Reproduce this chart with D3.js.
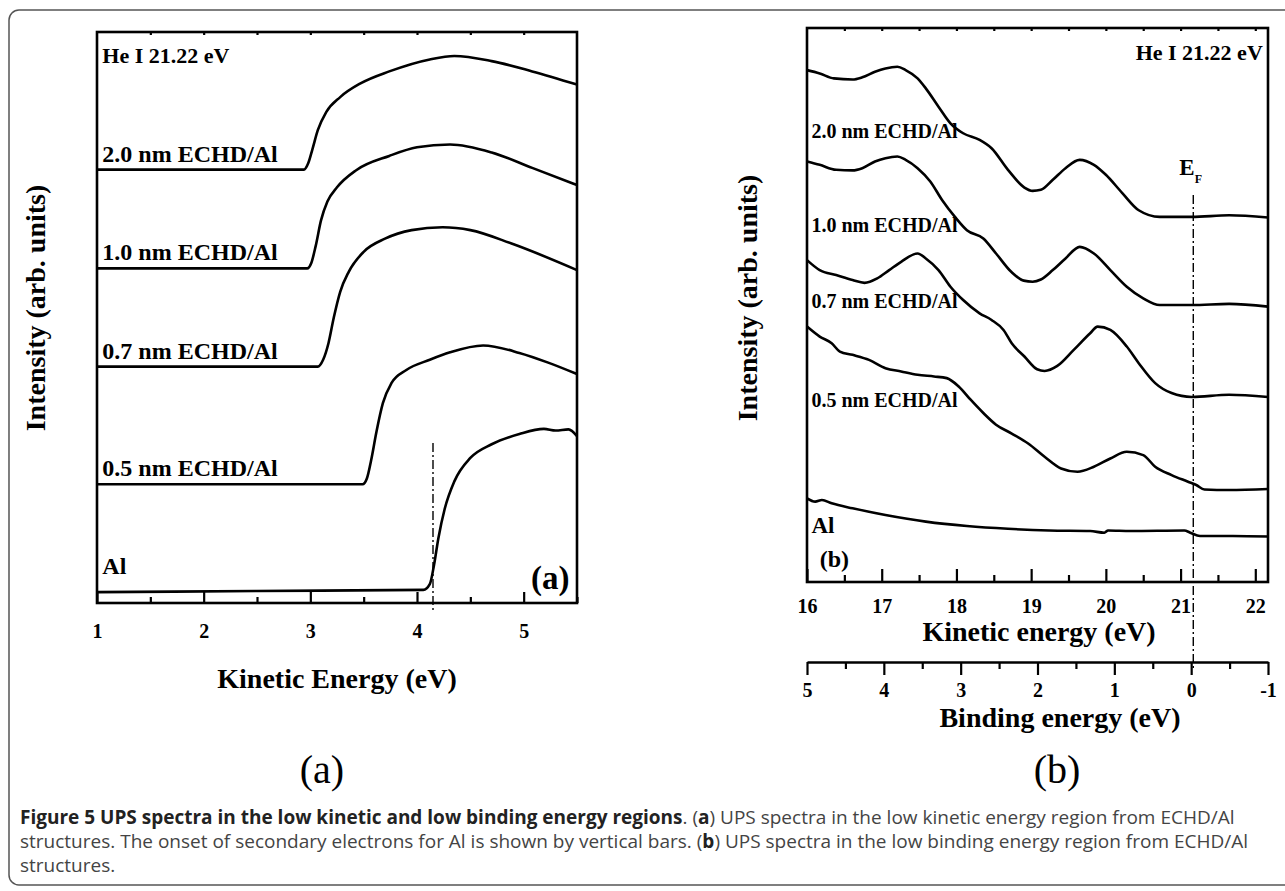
<!DOCTYPE html>
<html lang="en">
<head>
<meta charset="utf-8" />
<title>Figure 5 - UPS spectra</title>
<script src="https://cdn.jsdelivr.net/npm/d3@7"></script>
<style>
  body { margin: 0; background: #fff; }
  svg text { font-family: "Liberation Serif", "Times New Roman", serif; font-weight: bold; fill: #000; }
  .curve { fill: none; stroke: #000; stroke-width: 2.6px; stroke-linejoin: round; }
  .box { fill: none; stroke: #000; stroke-width: 2.6px; }
  .axis path { display: none; }
  .axis line { stroke: #000; stroke-width: 2.2px; }
  .axis text { font-size: 20px; }
  .axis.be path { display: inline; fill: none; stroke: #000; stroke-width: 2.4px; }
  .marker { stroke: #000; stroke-width: 1.4px; stroke-dasharray: 9,3,2,3; }
  .outer { fill: none; stroke: #555; stroke-width: 1.5px; }
  svg text.sub { font-weight: normal; font-size: 40px; }
  svg text.caption { font-family: "Open Sans", sans-serif; font-weight: normal; fill: #444; font-size: 19px; }
  svg text.caption tspan.b { font-weight: bold; fill: #222; }
</style>
</head>
<body>
<script>
// panel (a): kinetic energy (eV) vs intensity (arb. units)
const kinA_Al = [[1.0,1.9],[2.5,2.1],[4.06,2.3],[4.12,3.3],[4.16,6.7],[4.20,11.3],[4.26,16.5],[4.35,21.3],[4.50,25.4],[4.70,27.8],[4.96,29.6],[5.19,30.5],[5.30,30.2],[5.42,30.4],[5.5,29.2]];
const kinA_05 = [[1.0,20.8],[3.49,20.8],[3.53,21.8],[3.57,25.0],[3.62,30.0],[3.68,35.0],[3.76,38.5],[3.90,40.8],[4.12,42.6],[4.31,43.9],[4.62,45.1],[4.96,43.8],[5.23,42.1],[5.5,40.1]];
const kinA_07 = [[1.0,41.4],[3.07,41.4],[3.12,42.6],[3.17,45.5],[3.22,50.0],[3.28,54.5],[3.36,58.0],[3.50,61.5],[3.70,63.8],[3.95,65.3],[4.24,65.8],[4.50,65.3],[4.88,63.0],[5.5,58.3]];
const kinA_10 = [[1.0,58.6],[2.97,58.6],[3.01,59.6],[3.05,62.5],[3.10,67.0],[3.16,70.3],[3.25,72.8],[3.43,75.8],[3.74,78.3],[4.00,79.8],[4.31,80.3],[4.70,78.9],[5.08,76.2],[5.5,73.2]];
const kinA_20 = [[1.0,75.9],[2.94,75.9],[2.98,77.0],[3.02,79.5],[3.07,82.8],[3.15,86.0],[3.28,88.6],[3.47,91.0],[3.74,93.1],[4.12,95.2],[4.35,95.8],[4.70,94.9],[5.08,93.1],[5.5,90.8]];
const alOnsetA = 4.15;

// panel (b): kinetic energy (eV) vs intensity (arb. units)
const kinB_20 = [[16.0,92.4],[16.17,91.8],[16.36,90.9],[16.61,90.7],[16.74,91.1],[16.91,92.1],[17.05,92.7],[17.21,93.0],[17.32,92.4],[17.48,90.9],[17.59,89.1],[17.76,85.8],[17.92,82.8],[18.09,81.0],[18.31,79.8],[18.47,78.3],[18.69,74.4],[18.91,71.2],[19.02,70.6],[19.13,70.8],[19.29,72.6],[19.46,74.7],[19.65,76.2],[19.84,75.3],[20.00,73.5],[20.22,70.2],[20.44,67.1],[20.72,65.9],[21.15,65.9],[21.65,66.2],[22.17,65.8]];
const kinB_10 = [[16.0,75.9],[16.17,75.3],[16.39,74.4],[16.61,74.3],[16.74,74.7],[16.91,75.9],[17.05,76.5],[17.21,76.8],[17.32,76.2],[17.48,74.7],[17.65,72.3],[17.81,68.9],[17.98,65.9],[18.14,63.5],[18.36,62.0],[18.53,59.3],[18.74,55.9],[18.90,54.4],[19.02,54.2],[19.13,54.6],[19.29,56.3],[19.46,58.4],[19.65,60.5],[19.84,59.3],[20.06,56.3],[20.28,53.3],[20.50,51.2],[20.72,50.0],[21.15,50.0],[21.65,50.2],[22.17,49.7]];
const kinB_07 = [[16.0,58.1],[16.17,56.3],[16.39,55.4],[16.61,54.5],[16.77,54.0],[16.94,54.8],[17.10,56.3],[17.26,57.8],[17.48,59.3],[17.59,58.4],[17.76,56.3],[17.92,53.3],[18.09,50.9],[18.31,48.5],[18.47,47.3],[18.63,45.5],[18.74,43.1],[18.91,40.7],[19.08,38.4],[19.18,38.1],[19.35,39.0],[19.57,41.9],[19.79,44.9],[19.89,46.1],[20.06,45.5],[20.28,42.5],[20.44,39.5],[20.66,35.9],[20.88,34.1],[21.15,33.4],[21.65,33.8],[22.17,33.4]];
const kinB_05 = [[16.0,46.1],[16.17,44.3],[16.33,43.1],[16.44,41.6],[16.61,41.0],[16.83,40.1],[17.05,38.6],[17.26,38.0],[17.48,37.4],[17.70,37.1],[17.87,36.8],[18.03,35.3],[18.19,32.9],[18.36,30.5],[18.53,28.4],[18.74,26.8],[18.96,25.0],[19.18,22.6],[19.40,20.5],[19.62,19.9],[19.84,20.8],[20.06,22.3],[20.28,23.5],[20.50,22.9],[20.66,20.8],[20.88,19.3],[21.10,18.1],[21.21,17.5],[21.32,16.7],[21.65,16.6],[22.17,16.8]];
const kinB_Al = [[16.0,15.1],[16.11,14.5],[16.20,14.8],[16.33,14.2],[16.61,13.3],[17.05,12.1],[17.59,10.9],[18.14,10.1],[18.69,9.6],[19.24,9.3],[19.79,9.2],[19.98,8.9],[20.03,9.3],[20.33,9.2],[21.05,9.3],[21.13,8.9],[21.26,8.3],[21.70,8.3],[22.17,8.2]];
const fermiB = 21.17;

const sampleLabels = ["Al", "0.5 nm ECHD/Al", "0.7 nm ECHD/Al", "1.0 nm ECHD/Al", "2.0 nm ECHD/Al"];
const ticksKinA = [1, 2, 3, 4, 5];
const ticksKinB = [16, 17, 18, 19, 20, 21, 22];
const ticksBind = [5, 4, 3, 2, 1, 0, -1];

const W = 1285, H = 891;
const svg = d3.select("body").append("svg").attr("width", W).attr("height", H);

svg.append("rect").attr("class", "outer")
  .attr("x", 9).attr("y", 10).attr("width", 1300).attr("height", 875).attr("rx", 10);

const line = (x, y) => d3.line().x(d => x(d[0])).y(d => y(d[1])).curve(d3.curveMonotoneX);
const plain = d => String(d);

function halves(a, b) {
  let out = [];
  for (let v = a; v <= b + 1e-9; v += 0.5) out.push(v);
  return out;
}

function yLabel(x, y) {
  svg.append("text").attr("transform", `translate(${x},${y}) rotate(-90)`)
    .attr("text-anchor", "middle").style("font-size", "28px")
    .text("Intensity (arb. units)");
}

// ---------- panel (a) ----------
const xA = d3.scaleLinear().domain([1, 5.5]).range([97, 577]);
const yA = d3.scaleLinear().domain([0, 100]).range([603, 32]);
const gA = svg.append("g");

gA.append("g").attr("class", "axis").attr("transform", `translate(0,${yA(0)})`)
  .call(d3.axisBottom(xA).tickValues(halves(1.5, 5.5).filter(v => v % 1)).tickSize(-6).tickFormat(""));
gA.append("g").attr("class", "axis").attr("transform", `translate(0,${yA(0)})`)
  .call(d3.axisBottom(xA).tickValues(ticksKinA).tickSize(-11).tickSizeOuter(0).tickPadding(21).tickFormat(plain));
gA.append("g").attr("class", "axis").attr("transform", `translate(0,${yA(100)})`)
  .call(d3.axisTop(xA).tickValues(halves(1.5, 5)).tickSize(-3).tickFormat(""));

[kinA_Al, kinA_05, kinA_07, kinA_10, kinA_20].forEach((s, i) => {
  gA.append("path").attr("class", "curve").attr("d", line(xA, yA)(s));
  gA.append("text").attr("x", xA(1.05)).attr("y", yA(s[0][1]) - (i === 0 ? 18 : 8))
    .style("font-size", "24px").text(sampleLabels[i]);
});

gA.append("line").attr("class", "marker")
  .attr("x1", xA(alOnsetA)).attr("x2", xA(alOnsetA))
  .attr("y1", yA(28)).attr("y2", yA(0) + 10);

gA.append("rect").attr("class", "box")
  .attr("x", xA(1)).attr("y", yA(100)).attr("width", xA(5.5) - xA(1)).attr("height", yA(0) - yA(100));

gA.append("text").attr("x", xA(1.05)).attr("y", yA(94.5)).style("font-size", "22px").text("He I 21.22 eV");
gA.append("text").attr("x", xA(5.43)).attr("y", yA(2.4)).attr("text-anchor", "end").style("font-size", "33px").text("(a)");
gA.append("text").attr("x", (xA(1) + xA(5.5)) / 2).attr("y", 688).attr("text-anchor", "middle")
  .style("font-size", "28px").text("Kinetic Energy (eV)");
yLabel(45, 308);

// ---------- panel (b) ----------
const xB = d3.scaleLinear().domain([16, 22.17]).range([807, 1268]);
const yB = d3.scaleLinear().domain([0, 100]).range([582, 28]);
const xBE = d3.scaleLinear().domain([5, -1]).range([807, 1268]);
const gB = svg.append("g");
const labelYB = [8.8, 31.6, 49.5, 63.2, 80.1];

gB.append("g").attr("class", "axis").attr("transform", `translate(0,${yB(0)})`)
  .call(d3.axisBottom(xB).tickValues(halves(16.5, 22).filter(v => v % 1)).tickSize(-7).tickFormat(""));
gB.append("g").attr("class", "axis").attr("transform", `translate(0,${yB(0)})`)
  .call(d3.axisBottom(xB).tickValues(ticksKinB).tickSize(-13).tickSizeOuter(0).tickPadding(17).tickFormat(plain));
gB.append("g").attr("class", "axis").attr("transform", `translate(0,${yB(100)})`)
  .call(d3.axisTop(xB).tickValues(halves(16.5, 22)).tickSize(-3).tickFormat(""));

[kinB_Al, kinB_05, kinB_07, kinB_10, kinB_20].forEach((s, i) => {
  gB.append("path").attr("class", "curve").attr("d", line(xB, yB)(s));
  gB.append("text").attr("x", xB(16.06)).attr("y", yB(labelYB[i]))
    .style("font-size", i === 0 ? "23px" : "20px").text(sampleLabels[i]);
});

gB.append("rect").attr("class", "box")
  .attr("x", xB(16)).attr("y", yB(100)).attr("width", xB(22.17) - xB(16)).attr("height", yB(0) - yB(100));

gB.append("line").attr("class", "marker")
  .attr("x1", xB(fermiB)).attr("x2", xB(fermiB))
  .attr("y1", 195).attr("y2", 668);
const ef = gB.append("text").attr("x", xB(fermiB) - 14).attr("y", 175).style("font-size", "23px");
ef.append("tspan").text("E");
ef.append("tspan").attr("dy", 8).style("font-size", "12px").text("F");

gB.append("text").attr("x", xB(22.1)).attr("y", yB(94.3)).attr("text-anchor", "end").style("font-size", "22px").text("He I 21.22 eV");
gB.append("text").attr("x", xB(16.17)).attr("y", yB(2.7)).style("font-size", "24px").text("(b)");
gB.append("text").attr("x", 1039).attr("y", 641).attr("text-anchor", "middle")
  .style("font-size", "28px").text("Kinetic energy (eV)");

// binding energy scale
gB.append("g").attr("class", "axis be").attr("transform", "translate(0,662)")
  .call(d3.axisBottom(xBE).tickValues(halves(-0.5, 4.5).filter(v => v % 1)).tickSize(7).tickSizeOuter(0).tickFormat(""));
gB.append("g").attr("class", "axis").attr("transform", "translate(0,662)")
  .call(d3.axisBottom(xBE).tickValues(ticksBind).tickSize(13).tickSizeOuter(0).tickPadding(8).tickFormat(plain));
gB.append("text").attr("x", 1060).attr("y", 727).attr("text-anchor", "middle")
  .style("font-size", "28px").text("Binding energy (eV)");
yLabel(757, 298);

// ---------- sub-figure letters and caption ----------
svg.append("text").attr("class", "sub").attr("x", 322).attr("y", 783).attr("text-anchor", "middle").text("(a)");
svg.append("text").attr("class", "sub").attr("x", 1057).attr("y", 783).attr("text-anchor", "middle").text("(b)");

const captionLines = [
  [["b", "Figure 5 UPS spectra in the low kinetic and low binding energy regions"], ["", ". ("], ["b", "a"], ["", ") UPS spectra in the low kinetic energy region from ECHD/Al"]],
  [["", "structures. The onset of secondary electrons for Al is shown by vertical bars. ("], ["b", "b"], ["", ") UPS spectra in the low binding energy region from ECHD/Al"]],
  [["", "structures."]]
];
captionLines.forEach((parts, i) => {
  const t = svg.append("text").attr("class", "caption").attr("x", 20).attr("y", 824 + i * 24);
  parts.forEach(p => t.append("tspan").attr("class", p[0]).text(p[1]));
});
</script>
</body>
</html>
